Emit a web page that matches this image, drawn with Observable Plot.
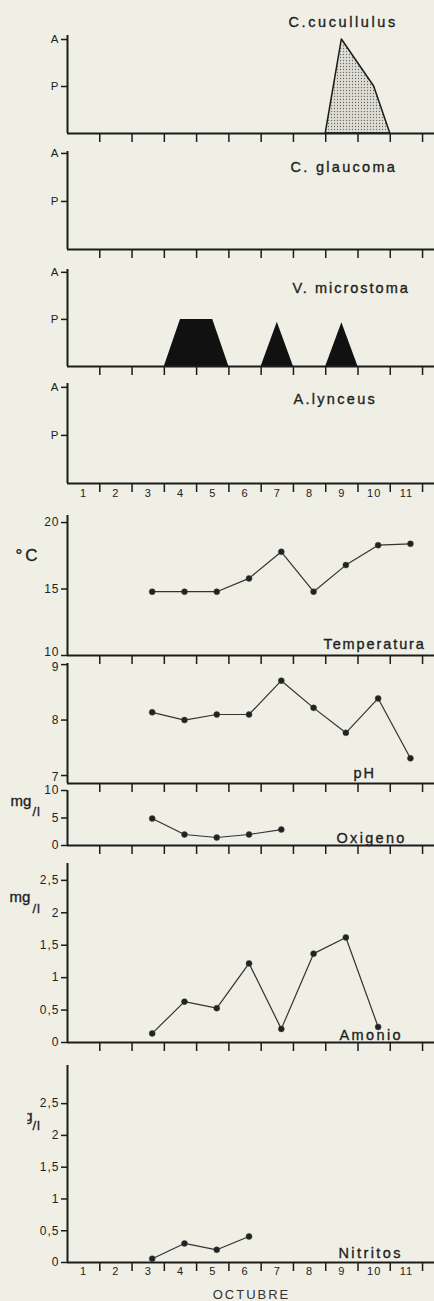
<!DOCTYPE html>
<html>
<head>
<meta charset="utf-8">
<script src="https://cdn.jsdelivr.net/npm/d3@7"></script>
<script src="https://cdn.jsdelivr.net/npm/@observablehq/plot@0.6"></script>
<style>
  html, body { margin: 0; padding: 0; background: #efefe6; }
  #chart { position: relative; width: 434px; height: 1301px; overflow: hidden; background: #efefe6; }
</style>
</head>
<body>
<div id="chart"></div>
<script>
// ---------------- data ----------------
const days = [1, 2, 3, 4, 5, 6, 7, 8, 9, 10, 11];
const dayLabels = ["1", "2", "3", "4", "5", "6", "7", "8", "9", "10", "11"];
const monthLabel = "OCTUBRE";

// abundance scale: P = present, A = abundant
const levelTicks = [1, 2];
const levelLabels = ["P", "A"];

// C. cucullulus (abundance profile)
const cucDays = [8.5, 9, 10, 10.5];
const cucLevels = [0, 2, 1, 0];

// V. microstoma (three episodes)
const micGroups = ["a", "a", "a", "a", "b", "b", "b", "c", "c", "c"];
const micDays = [3.5, 4, 5, 5.5, 6.5, 7, 7.5, 8.5, 9, 9.5];
const micLevels = [0, 1, 1, 0, 0, 0.94, 0, 0, 0.93, 0];

// Temperatura (°C)
const tempDays = [3, 4, 5, 6, 7, 8, 9, 10, 11];
const tempValues = [14.8, 14.8, 14.8, 15.8, 17.8, 14.8, 16.8, 18.3, 18.4];
const tempTicks = [10, 15, 20];

// pH
const phDays = [3, 4, 5, 6, 7, 8, 9, 10, 11];
const phValues = [8.14, 8.0, 8.1, 8.1, 8.71, 8.22, 7.77, 8.39, 7.31];
const phTicks = [7, 8, 9];

// Oxigeno (mg/l)
const oxDays = [3, 4, 5, 6, 7];
const oxValues = [4.9, 2.0, 1.45, 2.0, 2.9];
const oxTicks = [0, 5, 10];

// Amonio (mg/l)
const nh4Days = [3, 4, 5, 6, 7, 8, 9, 10];
const nh4Values = [0.14, 0.63, 0.53, 1.22, 0.21, 1.37, 1.62, 0.24];

// Nitritos
const no2Days = [3, 4, 5, 6];
const no2Values = [0.06, 0.30, 0.20, 0.41];

const concTicks = [0, 0.5, 1, 1.5, 2, 2.5];
const concLabels = ["0", "0,5", "1", "1,5", "2", "2,5"];

// ---------------- drawing ----------------
const INK = "#1c1c1c";
const LINE = "#333333";
const FONT = "'Liberation Sans', Arial, Helvetica, sans-serif";
const chart = document.getElementById("chart");
const ML = 67;
const xDomain = [0.5, 11.87];
const tickPos = days.map(d => d + 0.5);

const table = (xs, ys, gs) => xs.map((d, i) => ({day: d, value: ys[i], group: gs ? gs[i] : "s"}));

function panel(cfg) {
  const mt = 24, mb = 40;
  const h = cfg.yMinPx - cfg.yMaxPx + mt + mb;
  const top = cfg.yMaxPx;
  const marks = [];
  const shift = cfg.labelShift || {};
  const plainTicks = cfg.yTicks.filter(t => shift[t] === undefined);
  const fs = cfg.yFontSize || 12;
  (cfg.before || []).forEach(m => marks.push(m));
  marks.push(
    Plot.ruleX([xDomain[0]], {stroke: INK, strokeWidth: 2}),
    Plot.ruleY([cfg.yDomain[0]], {stroke: INK, strokeWidth: 2}),
    Plot.axisX(tickPos, {tickSize: 9, tickFormat: () => "", label: null, stroke: INK, strokeWidth: 1.5}),
    Plot.axisY(plainTicks, {tickSize: 6, tickPadding: 2, tickFormat: cfg.yFormat, label: null,
      fontSize: fs, stroke: INK, strokeWidth: 1.5})
  );
  Object.keys(shift).forEach(k => {
    const v = +k;
    marks.push(
      Plot.axisY([v], {tickSize: 6, tickFormat: () => "", label: null, stroke: INK, strokeWidth: 1.5}),
      Plot.axisY([v], {tickSize: 0, tickPadding: 8, dy: shift[k], tickFormat: cfg.yFormat, label: null, fontSize: fs})
    );
  });
  if (cfg.dayLabels) {
    marks.push(Plot.axisX(days, {tickSize: 0, tickPadding: cfg.dayPad, tickFormat: d => dayLabels[days.indexOf(d)],
      label: null, fontSize: 11}));
  }
  if (cfg.series) {
    const t = table(cfg.series.days, cfg.series.values);
    marks.push(
      Plot.line(t, {x: "day", y: "value", stroke: LINE, strokeWidth: 1.2, dx: 4}),
      Plot.dot(t, {x: "day", y: "value", r: 3, fill: "#222", stroke: "#444", strokeWidth: 0.5, dx: 4})
    );
  }
  (cfg.texts || []).forEach(tx => {
    marks.push(Plot.text([tx.text], {
      text: d => d, frameAnchor: "top-left", dx: tx.x - ML, dy: tx.y - top,
      lineAnchor: "bottom", textAnchor: tx.anchor || "start", fontSize: tx.size || 14.5,
      fill: tx.color || "#1e1e1e", stroke: tx.color || "#1e1e1e", strokeWidth: tx.bold === undefined ? 0.35 : tx.bold
    }));
  });
  const svg = Plot.plot({
    width: 434, height: h,
    marginLeft: ML, marginRight: 0, marginTop: mt, marginBottom: mb,
    x: {domain: xDomain, label: null},
    y: {domain: cfg.yDomain, label: null},
    style: {background: "transparent", overflow: "visible", fontFamily: FONT, color: "#222"},
    marks
  });
  svg.style.position = "absolute";
  svg.style.left = "0px";
  svg.style.top = (top - mt) + "px";
  chart.append(svg);
  // letter spacing of the lettering
  const spacing = {};
  (cfg.texts || []).forEach(tx => { spacing[tx.text] = tx.spacing; });
  d3.select(svg).selectAll("text").each(function() {
    const s = spacing[this.textContent];
    this.style.letterSpacing = (s !== undefined ? s : 1) + "px";
  });
  return svg;
}

const levelFormat = d => levelLabels[levelTicks.indexOf(d)];
const concFormat = d => concLabels[concTicks.indexOf(d)];

// 1. C. cucullulus
const svg1 = panel({
  yMaxPx: 35, yMinPx: 133, yDomain: [0, 2.085], yTicks: levelTicks, yFormat: levelFormat, yFontSize: 11.5,
  before: [Plot.areaY(table(cucDays, cucLevels), {x: "day", y: "value", fill: "url(#stipple)", stroke: INK, strokeWidth: 1.5})],
  texts: [{text: "C.cucullulus", x: 288, y: 26, spacing: 2.6}]
});
// stipple pattern
{
  const defs = d3.select(svg1).insert("defs", ":first-child");
  const pat = defs.append("pattern").attr("id", "stipple").attr("width", 3).attr("height", 3)
    .attr("patternUnits", "userSpaceOnUse");
  pat.append("rect").attr("width", 3).attr("height", 3).attr("fill", "#deded5");
  pat.append("circle").attr("cx", 1.5).attr("cy", 1.5).attr("r", 0.65).attr("fill", "#6a6a66");
}

// 2. C. glaucoma
panel({
  yMaxPx: 151, yMinPx: 249, yDomain: [0, 2.04], yTicks: levelTicks, yFormat: levelFormat, yFontSize: 11.5,
  texts: [{text: "C. glaucoma", x: 290, y: 171, spacing: 2.3}]
});

// 3. V. microstoma
panel({
  yMaxPx: 269, yMinPx: 366, yDomain: [0, 2.06], yTicks: levelTicks, yFormat: levelFormat, yFontSize: 11.5,
  before: [Plot.areaY(table(micDays, micLevels, micGroups), {x: "day", y: "value", z: "group", fill: "#111"})],
  texts: [{text: "V. microstoma", x: 292, y: 292, spacing: 2.0}]
});

// 4. A. lynceus
panel({
  yMaxPx: 383, yMinPx: 483, yDomain: [0, 2.08], yTicks: levelTicks, yFormat: levelFormat, yFontSize: 11.5,
  dayLabels: true, dayPad: 6,
  texts: [{text: "A.lynceus", x: 293, y: 403, spacing: 2.3}]
});

// 5. Temperatura
panel({
  yMaxPx: 515, yMinPx: 655, yDomain: [10, 20.53], yTicks: tempTicks, yFormat: d => String(d),
  labelShift: {10: -3},
  series: {days: tempDays, values: tempValues},
  texts: [
    {text: "Temperatura", x: 323, y: 648, spacing: 1.9},
    {text: "°C", x: 15, y: 560, size: 17, spacing: 3}
  ]
});

// 6. pH
panel({
  yMaxPx: 663, yMinPx: 783, yDomain: [6.856, 9.02], yTicks: phTicks, yFormat: d => String(d),
  labelShift: {9: 3, 7: 2},
  series: {days: phDays, values: phValues},
  texts: [{text: "pH", x: 353, y: 777, spacing: 2}]
});

// 7. Oxigeno
panel({
  yMaxPx: 790, yMinPx: 845, yDomain: [0, 10], yTicks: oxTicks, yFormat: d => String(d),
  series: {days: oxDays, values: oxValues},
  texts: [
    {text: "Oxigeno", x: 336, y: 842, spacing: 2.3},
    {text: "mg", x: 10, y: 805, size: 15, spacing: 0},
    {text: "/l", x: 32, y: 815, size: 13, spacing: 1}
  ]
});

// 8. Amonio
panel({
  yMaxPx: 863, yMinPx: 1042, yDomain: [0, 2.76], yTicks: concTicks, yFormat: concFormat,
  series: {days: nh4Days, values: nh4Values},
  texts: [
    {text: "Amonio", x: 339, y: 1039, spacing: 2.4},
    {text: "mg", x: 9, y: 901, size: 15, spacing: 0},
    {text: "/l", x: 32, y: 912, size: 13, spacing: 1}
  ]
});

// 9. Nitritos
const svg9 = panel({
  yMaxPx: 1065, yMinPx: 1262, yDomain: [0, 3.1], yTicks: concTicks, yFormat: concFormat,
  series: {days: no2Days, values: no2Values},
  dayLabels: true, dayPad: 5,
  texts: [
    {text: "Nitritos", x: 338, y: 1257, spacing: 2.4},
    {text: "mg", x: 32, y: 1120, size: 15, spacing: 0, anchor: "end"},
    {text: "/l", x: 32, y: 1129, size: 13, spacing: 1},
    {text: monthLabel, x: 251, y: 1298, size: 13, spacing: 2, anchor: "middle", color: "#333", bold: 0}
  ]
});
// the unit label of the last panel is cut at the left edge in the original
{
  const node = d3.select(svg9).selectAll("text").filter(function() { return this.textContent === "mg"; }).node();
  if (node) {
    const bb = node.getBBox();
    const defs = d3.select(svg9).insert("defs", ":first-child");
    defs.append("clipPath").attr("id", "cutmg").append("rect")
      .attr("x", bb.x + bb.width - 5).attr("y", bb.y - 5).attr("width", 30).attr("height", bb.height + 10);
    node.setAttribute("clip-path", "url(#cutmg)");
  }
}
</script>
</body>
</html>
